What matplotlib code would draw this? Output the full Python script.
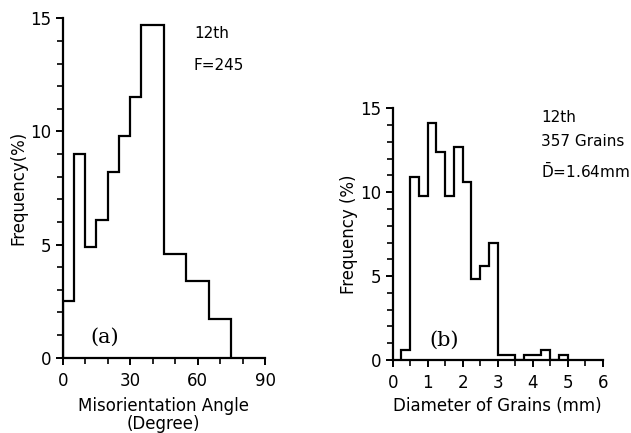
import numpy as np
import matplotlib
matplotlib.use("Agg")
import matplotlib.pyplot as plt

# ---- data: panel (a) misorientation angle histogram ----
angle_edges = [0, 5, 10, 15, 20, 25, 30, 35, 40, 45, 50, 55, 60, 65, 70, 75]
angle_freq = [2.5, 9.0, 4.9, 6.1, 8.2, 9.8, 11.5, 14.7, 14.7, 4.6, 4.6, 3.4, 3.4, 1.7, 1.7]

# ---- data: panel (b) grain diameter histogram ----
diam_edges = [0.25, 0.5, 0.75, 1.0, 1.25, 1.5, 1.75, 2.0, 2.25, 2.5, 2.75, 3.0,
              3.25, 3.5, 3.75, 4.0, 4.25, 4.5, 4.75, 5.0]
diam_freq = [0.6, 10.9, 9.8, 14.1, 12.4, 9.8, 12.7, 10.6, 4.8, 5.6, 7.0,
             0.3, 0.3, 0.0, 0.3, 0.3, 0.6, 0.0, 0.3]

a_xticks = [0, 30, 60, 90]
b_xticks = [0, 1, 2, 3, 4, 5, 6]
yticks = [0, 5, 10, 15]

W, H = 631, 433
fig = plt.figure(figsize=(W / 100, H / 100), dpi=100)
fig.patch.set_facecolor("white")

font = "DejaVu Sans"
fs = 12
afs = 11
lw = 1.6


def style(ax, xmax, xminor, xticks):
    for s in ("top", "right"):
        ax.spines[s].set_visible(False)
    for s in ("left", "bottom"):
        ax.spines[s].set_linewidth(lw)
    ax.set_ylim(0, 15)
    ax.set_xlim(0, xmax)
    ax.set_xticks(xticks)
    ax.set_xticks(np.arange(0, xmax + 1e-9, xminor), minor=True)
    ax.set_yticks(yticks)
    ax.set_yticks(np.arange(0, 16, 1), minor=True)
    ax.tick_params(axis="both", which="major", direction="out", length=5, width=1.4,
                   labelsize=fs, pad=3)
    ax.tick_params(axis="x", which="major", pad=5)
    ax.tick_params(axis="both", which="minor", direction="out", length=4, width=1.2)
    for lab in ax.get_xticklabels() + ax.get_yticklabels():
        lab.set_family(font)
    ax.set_facecolor("white")


# panel (a)
axa = fig.add_axes([62.7 / W, 1 - 357.7 / H, (265 - 62.7) / W, (357.7 - 18.3) / H])
axa.stairs(angle_freq, angle_edges, baseline=0, color="black", lw=lw)
style(axa, 90, 10, a_xticks)
axa.set_ylabel("Frequency(%)", fontsize=fs, family=font, labelpad=2)
axa.set_xlabel("Misorientation Angle\n(Degree)", fontsize=fs, family=font,
               labelpad=5, linespacing=1.05)
fig.text(194 / W, 1 - 33 / H, "12th", fontsize=afs, family=font, va="center", ha="left")
fig.text(194 / W, 1 - 65 / H, "F=245", fontsize=afs, family=font, va="center", ha="left")
fig.text(105 / W, 1 - 337 / H, "(a)", fontsize=15, family="DejaVu Serif",
         va="center", ha="center")

# panel (b)
axb = fig.add_axes([392.7 / W, 1 - 360 / H, (602.7 - 392.7) / W, (360 - 108.3) / H])
axb.stairs(diam_freq, diam_edges, baseline=0, color="black", lw=lw)
style(axb, 6, 0.5, b_xticks)
axb.set_ylabel("Frequency (%)", fontsize=fs, family=font, labelpad=2)
axb.set_xlabel("Diameter of Grains (mm)", fontsize=fs, family=font, labelpad=4)
fig.text(541 / W, 1 - 117 / H, "12th", fontsize=afs, family=font, va="center", ha="left")
fig.text(541 / W, 1 - 141 / H, "357 Grains", fontsize=afs, family=font, va="center", ha="left")
fig.text(541 / W, 1 - 171 / H, r"$\bar{\mathrm{D}}$=1.64mm", fontsize=afs, family=font,
         va="center", ha="left")
fig.text(444 / W, 1 - 340 / H, "(b)", fontsize=15, family="DejaVu Serif",
         va="center", ha="center")

fig.savefig("out.png", dpi=100, facecolor="white")
